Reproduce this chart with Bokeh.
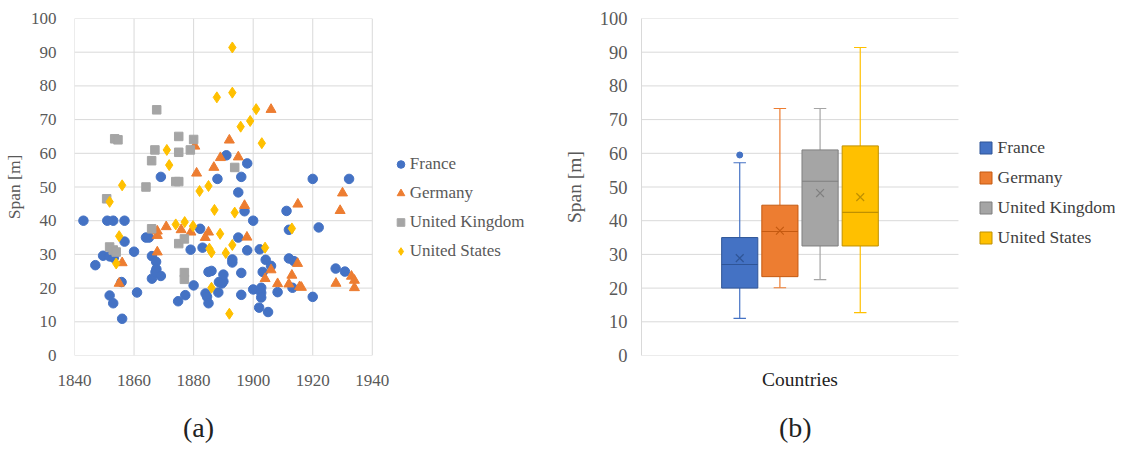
import numpy as np
from bokeh.plotting import figure
from bokeh.layouts import row, column
from bokeh.models import Range1d, FixedTicker, Legend, LegendItem, Div
from bokeh.embed import file_html
from bokeh.resources import INLINE

# ---------------- data ----------------
france_year = [1843, 1847, 1849.6, 1851.8, 1853.2, 1851, 1853, 1851.8, 1853, 1856.8, 1856.8, 1855.8,
               1856, 1860, 1861, 1864, 1865, 1866, 1866, 1867.4, 1867.5, 1867.2, 1869, 1869, 1874.8,
               1877.2, 1879, 1880, 1882.2, 1883, 1884, 1884.5, 1885, 1885, 1886, 1888, 1888.3, 1888.5,
               1889.5, 1890, 1890, 1893, 1893, 1895, 1896, 1895, 1896, 1896, 1897.1, 1898, 1891, 1898,
               1900, 1900, 1902.2, 1902.7, 1902.7, 1902.7, 1902, 1903.2, 1904.2, 1905, 1906, 1908.2,
               1911.2, 1912, 1912, 1913.2, 1913.7, 1920, 1920, 1922, 1927.7, 1930.8, 1932.2]
france_span = [40, 26.8, 29.6, 29.4, 29.0, 40, 40, 17.8, 15.5, 40, 33.8, 21.8,
               10.9, 30.8, 18.7, 35, 35, 29.5, 22.8, 27.8, 25.6, 24.8, 23.6, 53, 16.1,
               17.9, 31.4, 20.8, 37.6, 32, 18.4, 17.4, 15.5, 24.8, 25.1, 52.4, 18.7, 21.8,
               21.4, 22, 24, 28.5, 27.6, 35, 24.5, 48.4, 53, 18, 42.8, 31.2, 59.4, 57,
               40, 19.6, 31.5, 20.1, 18.6, 17.2, 14.2, 24.8, 28.4, 12.9, 26.6, 18.8,
               42.9, 37.3, 28.8, 20.1, 28, 52.4, 17.4, 38, 25.8, 24.9, 52.4]

germany_year = [1906, 1892, 1880.4, 1889, 1895, 1886.8, 1881, 1930, 1897.1, 1915, 1929.2, 1870.8,
                1867.8, 1867.8, 1875.8, 1879.1, 1885, 1883.9, 1897.9, 1867.8, 1856, 1855,
                1904, 1906, 1908.2, 1912, 1913, 1914.9, 1915.6, 1916.2, 1927.8, 1933, 1934, 1934]
germany_span = [73, 63.9, 62.1, 58.7, 58.9, 55.8, 54.1, 48.2, 44.5, 44.9, 43.0, 38.2,
                36.9, 35.6, 37.3, 36.6, 36.6, 35, 35.1, 30.7, 27.5, 21.4,
                22.8, 25.4, 21.3, 21.2, 23.8, 27.3, 20.4, 20.2, 21.4, 23.5, 22.3, 20.1]

uk_year = [1853.5, 1854.6, 1867.6, 1867, 1865.9, 1864, 1875, 1875, 1878.9, 1880, 1893.8,
           1874, 1875, 1850.8, 1851.8, 1853, 1854, 1865.9, 1875, 1876.9, 1876.9, 1876.9]
uk_span = [64.3, 64.0, 72.9, 61, 57.8, 50, 65, 60.3, 61, 64.1, 55.8,
           51.6, 51.6, 46.5, 32.2, 31.3, 30.7, 37.6, 33.2, 34.6, 24.6, 22.6]

us_year = [1893, 1887.8, 1893, 1901, 1899, 1895.8, 1902.9, 1871, 1871.8, 1856, 1882, 1885,
           1851.8, 1887, 1893.8, 1874, 1877, 1879.8, 1855, 1888.9, 1885.3, 1886, 1890.8,
           1893, 1904, 1913, 1854, 1886, 1892]
us_span = [91.4, 76.6, 78, 73.1, 69.6, 67.9, 63, 61, 56.5, 50.5, 48.8, 50.3,
           45.6, 43.2, 42.4, 38.9, 39.6, 38.4, 35.4, 36.1, 31.7, 30.6, 30.4,
           32.8, 32, 37.7, 27.3, 20.1, 12.4]

countries = ["France", "Germany", "United Kingdom", "United States"]
box_low = [11.0, 20.1, 22.5, 12.7]
box_q1 = [20.0, 23.4, 32.5, 32.5]
box_median = [27.0, 36.8, 51.7, 42.5]
box_q3 = [35.0, 44.6, 61.0, 62.2]
box_high = [57.2, 73.3, 73.3, 91.4]
box_mean = [28.9, 37.0, 48.2, 47.0]
outlier_country = [0]
outlier_span = [59.5]

year_ticks = [1840, 1860, 1880, 1900, 1920, 1940]
span_ticks = [0, 10, 20, 30, 40, 50, 60, 70, 80, 90, 100]
captions = ["(a)", "(b)"]

# ---------------- styles ----------------
FONT = "Liberation Serif"
GRID = "#D9D9D9"
TXT = "#595959"
colors = ["#4472C4", "#ED7D31", "#A5A5A5", "#FFC000"]
dark = ["#2F5597", "#C55A11", "#7F7F7F", "#BF9000"]
FIG_H = 402

# ---------------- (a) scatter ----------------
W1, L1, R1 = 560, 68, 4
PLOT_PX1 = 301.5                       # pixel width of the gridded area
F1 = W1 - L1 - R1                      # frame width (grid area + legend room)
x0_1, x1_1 = year_ticks[0], year_ticks[-1]
x_end1 = x0_1 + (x1_1 - x0_1) * F1 / PLOT_PX1

p1 = figure(width=W1, height=FIG_H, output_backend="svg", toolbar_location=None,
            x_range=Range1d(x0_1, x_end1), y_range=Range1d(span_ticks[0], span_ticks[-1]),
            min_border_left=L1, min_border_right=R1, min_border_top=18,
            min_border_bottom=FIG_H - 18 - 337)
p1.outline_line_color = None
p1.xgrid.grid_line_color = None
p1.ygrid.grid_line_color = None
for ax in (p1.xaxis[0], p1.yaxis[0]):
    ax.axis_line_color = None
    ax.major_tick_line_color = None
    ax.minor_tick_line_color = None
    ax.major_label_text_font = FONT
    ax.major_label_text_font_size = "17px"
    ax.major_label_text_color = TXT
p1.xaxis.ticker = FixedTicker(ticks=year_ticks)
p1.yaxis.ticker = FixedTicker(ticks=span_ticks)
p1.xaxis.major_label_standoff = 13
p1.yaxis.major_label_standoff = 12
p1.yaxis.axis_label = "Span [m]"
p1.yaxis.axis_label_text_font = FONT
p1.yaxis.axis_label_text_font_size = "17.5px"
p1.yaxis.axis_label_text_font_style = "normal"
p1.yaxis.axis_label_text_color = TXT
p1.yaxis.axis_label_standoff = 4

# grid limited to the data area
nyt, nst = len(year_ticks), len(span_ticks)
p1.segment(year_ticks, [span_ticks[0]] * nyt, year_ticks, [span_ticks[-1]] * nyt,
           line_color=GRID, line_width=1)
p1.segment([x0_1] * nst, span_ticks, [x1_1] * nst, span_ticks, line_color=GRID, line_width=1)

r_fr = p1.scatter(france_year, france_span, marker="circle", size=9.5, color=colors[0])
r_de = p1.scatter(germany_year, germany_span, marker="triangle", size=10, color=colors[1])
r_uk = p1.scatter(uk_year, uk_span, marker="square", size=8.5, color=colors[2])
r_us = p1.scatter(us_year, us_span, marker="diamond", size=11, color=colors[3])

lg = Legend(items=[LegendItem(label=c, renderers=[r]) for c, r in zip(countries, [r_fr, r_de, r_uk, r_us])],
            location=(316.8, 93.4), margin=0, padding=0, border_line_color=None,
            background_fill_alpha=0, glyph_width=19, glyph_height=22, label_height=22,
            spacing=7, label_standoff=0, label_text_font=FONT, label_text_font_size="17px",
            label_text_color=TXT)
p1.add_layout(lg, "center")

# ---------------- (b) box plot ----------------
xs = np.arange(len(countries))
center = (xs[0] + xs[-1]) / 2
half = 3.945
bw = 0.45
cap = 0.155
W2, L2, R2 = 555, 69, 0
PLOT_PX2 = 325.0
F2 = W2 - L2 - R2
xa2, xb2 = center - half, center + half
x_end2 = xa2 + (xb2 - xa2) * F2 / PLOT_PX2

p2 = figure(width=W2, height=FIG_H, output_backend="svg", toolbar_location=None,
            x_range=Range1d(xa2, x_end2), y_range=Range1d(span_ticks[0], span_ticks[-1]),
            min_border_left=L2, min_border_right=R2, min_border_top=8,
            min_border_bottom=FIG_H - 8 - 350)
p2.outline_line_color = None
p2.xgrid.grid_line_color = None
p2.ygrid.grid_line_color = None
p2.yaxis.ticker = FixedTicker(ticks=span_ticks)
p2.xaxis.ticker = FixedTicker(ticks=[center])
p2.xaxis.major_label_overrides = {float(center): "Countries"}
for ax in (p2.xaxis[0], p2.yaxis[0]):
    ax.major_tick_line_color = None
    ax.minor_tick_line_color = None
    ax.major_label_text_font = FONT
    ax.major_label_text_font_size = "18.5px"
    ax.major_label_text_color = TXT
p2.xaxis.axis_line_color = None
p2.yaxis.axis_line_color = GRID
p2.xaxis.major_label_text_color = "#222222"
p2.xaxis.major_label_text_font_size = "19.5px"
p2.xaxis.major_label_standoff = 7
p2.yaxis.major_label_standoff = 8
p2.yaxis.axis_label = "Span [m]"
p2.yaxis.axis_label_text_font = FONT
p2.yaxis.axis_label_text_font_size = "19.5px"
p2.yaxis.axis_label_text_font_style = "normal"
p2.yaxis.axis_label_text_color = TXT
p2.yaxis.axis_label_standoff = 12

p2.segment([xa2] * nst, span_ticks, [xb2] * nst, span_ticks, line_color=GRID, line_width=1)

# whiskers and caps
p2.segment(xs, box_q3, xs, box_high, line_color=colors, line_width=1.2)
p2.segment(xs, box_q1, xs, box_low, line_color=colors, line_width=1.2)
p2.segment(xs - cap, box_high, xs + cap, box_high, line_color=colors, line_width=1.2)
p2.segment(xs - cap, box_low, xs + cap, box_low, line_color=colors, line_width=1.2)
# boxes
box_rs = []
for i, c in enumerate(countries):
    box_rs.append(p2.quad(left=[xs[i] - bw], right=[xs[i] + bw], bottom=[box_q1[i]], top=[box_q3[i]],
                          fill_color=colors[i], line_color=dark[i], line_width=1))
p2.segment(xs - bw, box_median, xs + bw, box_median, line_color=dark, line_width=1.2)
p2.scatter(xs, box_mean, marker="x", size=11, line_color=dark, line_width=1.2)
p2.scatter(outlier_country, outlier_span, marker="circle", size=6, color=colors[0])

lg2 = Legend(items=[LegendItem(label=c, renderers=[r]) for c, r in zip(countries, box_rs)],
             location=(336.5, 106.3), margin=0, padding=0, border_line_color=None,
             background_fill_alpha=0, glyph_width=15, glyph_height=15, label_height=22,
             spacing=8, label_standoff=5, label_text_font=FONT, label_text_font_size="17.5px",
             label_text_color="#404040")
p2.add_layout(lg2, "center")

# ---------------- captions ----------------
cap_style = ("position:absolute;top:7px;font-family:'Liberation Serif';font-size:28px;"
             "line-height:27px;color:#222222;")
cap_left = [178, 774]
cap_html = ('<div style="position:relative;width:1115px;height:34px;">'
            + "".join(f'<span style="{cap_style}left:{l}px;">{t}</span>' for t, l in zip(captions, cap_left))
            + "</div>")
div = Div(text=cap_html, width=1115, height=436 - FIG_H)

layout = column(row(p1, p2), div)
open("out.html", "w").write(file_html(layout, INLINE))
